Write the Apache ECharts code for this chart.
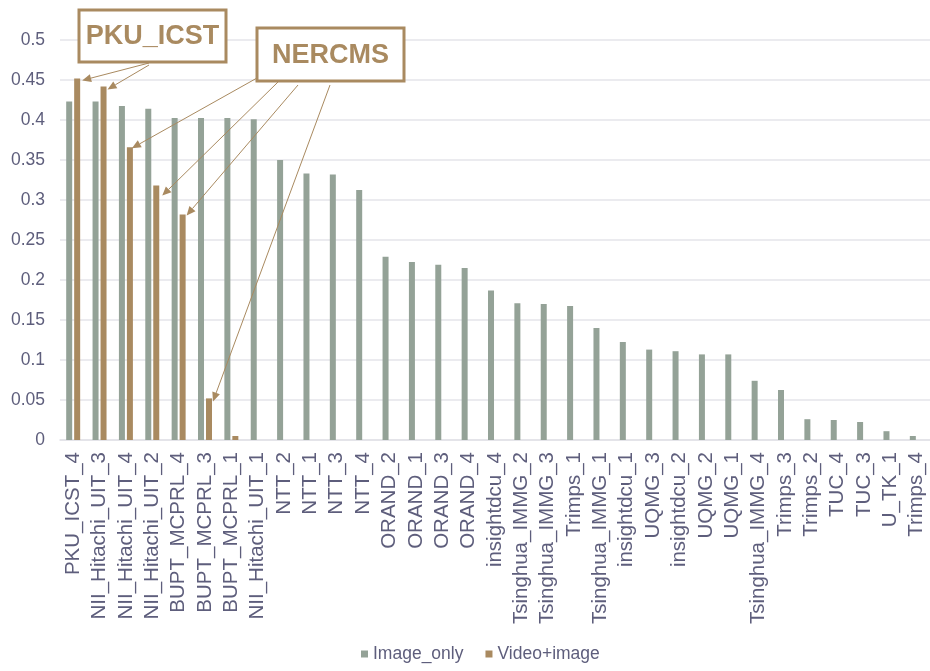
<!DOCTYPE html>
<html>
<head>
<meta charset="utf-8">
<script src="https://cdn.jsdelivr.net/npm/echarts@6/dist/echarts.min.js"></script>
<style>
html,body{margin:0;padding:0;background:#fff;}
#main{width:930px;height:671px;}
</style>
</head>
<body>
<div id="main"></div>
<script>
const categories = ['PKU_ICST_4','NII_Hitachi_UIT_3','NII_Hitachi_UIT_4','NII_Hitachi_UIT_2','BUPT_MCPRL_4','BUPT_MCPRL_3','BUPT_MCPRL_1','NII_Hitachi_UIT_1','NTT_2','NTT_1','NTT_3','NTT_4','ORAND_2','ORAND_1','ORAND_3','ORAND_4','insightdcu_4','Tsinghua_IMMG_2','Tsinghua_IMMG_3','Trimps_1','Tsinghua_IMMG_1','insightdcu_1','UQMG_3','insightdcu_2','UQMG_2','UQMG_1','Tsinghua_IMMG_4','Trimps_3','Trimps_2','TUC_4','TUC_3','U_TK_1','Trimps_4'];
const imageOnly = [0.423,0.423,0.4175,0.414,0.4025,0.4025,0.4025,0.401,0.35,0.333,0.332,0.3125,0.229,0.2225,0.219,0.215,0.187,0.171,0.17,0.1675,0.14,0.1225,0.113,0.111,0.107,0.107,0.074,0.0625,0.026,0.025,0.0225,0.011,0.005];
const videoImage = [0.452,0.442,0.366,0.318,0.282,0.052,0.005,null,null,null,null,null,null,null,null,null,null,null,null,null,null,null,null,null,null,null,null,null,null,null,null,null,null];
const seriesNames = ['Image_only','Video+image'];
const yTicks = {min:0, max:0.5, interval:0.05};

const GREEN = '#94a297';
const GOLD = '#a98a60';
const TXT = '#5e5e7c';
const FONT = '"Liberation Sans", Arial, sans-serif';

const chart = echarts.init(document.getElementById('main'), null, {renderer:'canvas'});
const option = {
  animation:false,
  backgroundColor:'#ffffff',
  textStyle:{fontFamily:FONT},
  grid:{left:60, top:40, width:878, height:400, containLabel:false},
  legend:{
    bottom:3, left:356,
    icon:'rect', itemWidth:7, itemHeight:7, itemGap:22,
    textStyle:{fontSize:17.5, color:TXT, fontFamily:FONT},
    data:seriesNames
  },
  xAxis:{
    type:'category', data:categories,
    axisLine:{show:true, lineStyle:{color:'#e2e2e8', width:1.5}},
    axisTick:{show:false},
    axisLabel:{interval:0, rotate:90, fontSize:20.5, color:TXT, fontFamily:FONT, margin:12}
  },
  yAxis:{
    type:'value', min:yTicks.min, max:yTicks.max, interval:yTicks.interval,
    axisLine:{show:false}, axisTick:{show:false},
    splitLine:{lineStyle:{color:'#e4e4ea', width:1.5}},
    axisLabel:{fontSize:17.5, color:TXT, fontFamily:FONT, margin:15}
  },
  series:[
    {name:seriesNames[0], type:'bar', data:imageOnly, barWidth:6, barGap:'33%', itemStyle:{color:GREEN}},
    {name:seriesNames[1], type:'bar', data:videoImage, barWidth:6, barGap:'33%', itemStyle:{color:GOLD}}
  ]
};
chart.setOption(option);

// annotation boxes and arrows (styling only)
const boxes = [
  {text:'PKU_ICST', x:79, y:10, w:147, h:52},
  {text:'NERCMS', x:257, y:28, w:147, h:53}
];
const arrows = [
  {from:[149,63], to:0, dx:2, dy:2},
  {from:[149,65], to:1, dx:1, dy:3},
  {from:[257,78], to:2, dx:-1, dy:1},
  {from:[278,82], to:3, dx:3, dy:10},
  {from:[298,85], to:4, dx:1, dy:1},
  {from:[330,85], to:5, dx:1, dy:3}
];
const els = [];
boxes.forEach(b => {
  els.push({type:'rect', shape:{x:b.x, y:b.y, width:b.w, height:b.h}, style:{fill:'#fff', stroke:GOLD, lineWidth:3}, z:100});
  els.push({type:'text', x:b.x + b.w/2, y:b.y + b.h/2 + 1, style:{text:b.text, fill:GOLD, font:'bold 27px ' + FONT, align:'center', verticalAlign:'middle'}, z:101});
});
const gdata = chart.getModel().getSeriesByIndex(1).getData();
arrows.forEach(a => {
  let tx, ty;
  const lay = gdata.getItemLayout(a.to);
  if (lay && lay.width != null) {
    const top = Math.min(lay.y, lay.y + lay.height);
    tx = lay.x + lay.width + a.dx; ty = top + a.dy;
  } else {
    const p = chart.convertToPixel({seriesIndex:1}, [a.to, videoImage[a.to]]);
    tx = p[0] + 7 + a.dx; ty = p[1] + a.dy;
  }
  const [sx, sy] = a.from;
  const L = Math.hypot(tx - sx, ty - sy);
  const ux = (tx - sx)/L, uy = (ty - sy)/L;
  const hl = 9, hw = 4;
  const bx = tx - ux*hl, by = ty - uy*hl;
  els.push({type:'line', shape:{x1:sx, y1:sy, x2:bx, y2:by}, style:{stroke:GOLD, lineWidth:1}, z:99});
  els.push({type:'polygon', shape:{points:[[tx,ty],[bx - uy*hw, by + ux*hw],[bx + uy*hw, by - ux*hw]]}, style:{fill:GOLD}, z:99});
});
chart.setOption({graphic:{elements:els}});
</script>
</body>
</html>
